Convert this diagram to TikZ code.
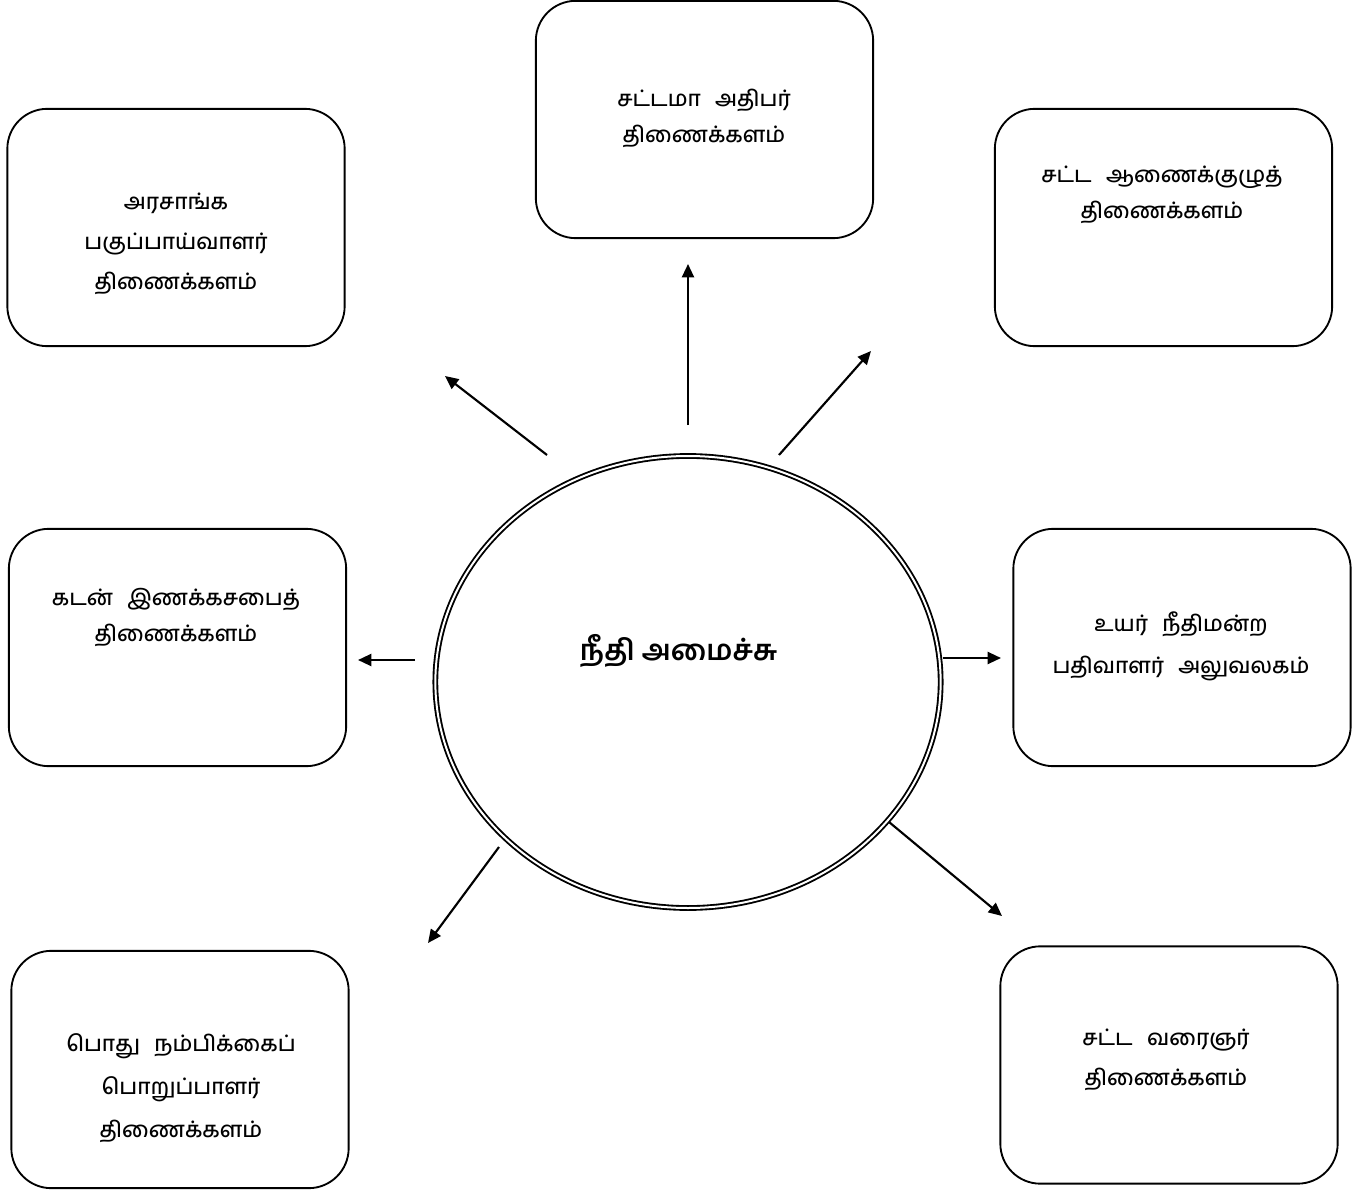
\documentclass[tikz,border=0pt]{standalone}
\usepackage{fontspec}
\newfontfamily\tamil[Script=Tamil]{Hind Madurai Medium}
\newfontfamily\tamilbf[Script=Tamil]{Hind Madurai}
\usetikzlibrary{arrows.meta,shapes.geometric}
\newcommand{\deptfont}[1]{\tamil\fontsize{16.5}{#1}\selectfont\spaceskip=0.65em plus 0.1em\relax}
\begin{document}
\begin{tikzpicture}[x=0.75pt,y=-0.75pt,
  deptbox/.style={draw, line width=1.4pt, rounded corners=30pt, minimum width=253pt, minimum height=178pt, inner sep=0pt},
  depttext/.style={align=center, inner sep=0pt},
  arr/.style={line width=1.6pt, -{Triangle[length=10pt,width=9pt]}}]
\useasboundingbox (0,0) rectangle (1371,1191);
\fill[white] (0,0) rectangle (1371,1191);
% boxes
\node[deptbox] (bT)  at (704.5,119.5) {};
\node[deptbox] (bTL) at (176,227.5) {};
\node[deptbox] (bTR) at (1163.5,227.5) {};
\node[deptbox] (bML) at (177.5,647.5) {};
\node[deptbox] (bMR) at (1182,647.5) {};
\node[deptbox] (bBL) at (180,1069.5) {};
\node[deptbox] (bBR) at (1169,1065) {};
% texts
\node[depttext, font=\deptfont{27}] (tT)  at (704,118) {சட்டமா அதிபர்\\திணைக்களம்};
\node[depttext, font=\deptfont{30}] (tTL) at (176,244) {அரசாங்க\\பகுப்பாய்வாளர்\\திணைக்களம்};
\node[depttext, font=\deptfont{27}] (tTR) at (1162,195) {சட்ட ஆணைக்குழுத்\\திணைக்களம்};
\node[depttext, font=\deptfont{27}] (tML) at (176,617.5) {கடன் இணக்கசபைத்\\திணைக்களம்};
\node[depttext, font=\deptfont{32}] (tMR) at (1181,646.5) {உயர் நீதிமன்ற\\பதிவாளர் அலுவலகம்};
\node[depttext, font=\deptfont{32.5}] (tBL) at (181,1088) {பொது நம்பிக்கைப்\\பொறுப்பாளர்\\திணைக்களம்};
\node[depttext, font=\deptfont{30}] (tBR) at (1166,1060) {சட்ட வரைஞர்\\திணைக்களம்};
% centre
\node[draw, ellipse, line width=1.4pt, double, double distance=1.5pt, minimum width=379pt, minimum height=339pt] (centre) at (688,682) {};
\node[font=\tamilbf\bfseries\fontsize{21.5}{26}\selectfont, inner sep=0pt] (ctext) at (678.5,651) {நீதி அமைச்சு};
% arrows
\coordinate (aT1) at (688,425);   \coordinate (aT2) at (688,264);
\coordinate (aTL1) at (547,455);  \coordinate (aTL2) at (445,376);
\coordinate (aTR1) at (779,455);  \coordinate (aTR2) at (871,351);
\coordinate (aML1) at (415,660);  \coordinate (aML2) at (358,660);
\coordinate (aMR1) at (943,658);  \coordinate (aMR2) at (1001,658);
\coordinate (aBL1) at (499,847);  \coordinate (aBL2) at (428,943);
\coordinate (aBR1) at (889,822);  \coordinate (aBR2) at (1002,916);
\draw[arr] (aT1) -- (aT2);
\draw[arr] (aTL1) -- (aTL2);
\draw[arr] (aTR1) -- (aTR2);
\draw[arr] (aML1) -- (aML2);
\draw[arr] (aMR1) -- (aMR2);
\draw[arr] (aBL1) -- (aBL2);
\draw[arr] (aBR1) -- (aBR2);
\end{tikzpicture}
\end{document}
